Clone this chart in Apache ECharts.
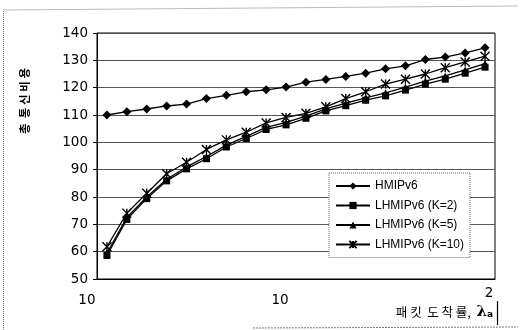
<!DOCTYPE html>
<html>
<head>
<meta charset="utf-8">
<script src="https://cdn.jsdelivr.net/npm/echarts@6/dist/echarts.min.js"></script>
<style>html,body{margin:0;padding:0;background:#fff}#c{width:520px;height:330px}</style>
</head>
<body>
<div id="c"></div>
<script>
// packet arrival rate (log-spaced, 10 points per decade)
const categories = ['1.26','1.58','2.00','2.51','3.16','3.98','5.01','6.31','7.94','10.0','12.6','15.8','20.0','25.1','31.6','39.8','50.1','63.1','79.4','100'];
const xTickIndex = [0, 9, 19];
const xTickLabels = ['10', '10', '2'];
const yTicks = { min: 50, max: 140, interval: 10 };
const seriesNames = ['HMIPv6', 'LHMIPv6 (K=2)', 'LHMIPv6 (K=5)', 'LHMIPv6 (K=10)'];
const hmipv6 = [110, 111.2, 112.2, 113.3, 114, 116, 117.2, 118.5, 119.2, 120.2, 122, 123, 124.1, 125.3, 126.9, 128, 130.3, 131.2, 132.7, 134.6];
const lhmipK2 = [58.6, 71.8, 79.4, 85.9, 90.3, 94, 98.3, 101.4, 104.7, 106.4, 108.8, 111.5, 113.4, 115.4, 117, 119.1, 121.3, 123.1, 125.3, 127.5];
const lhmipK5 = [59.5, 72.5, 80, 86.5, 91, 94.8, 99, 102.2, 105.5, 107.3, 109.6, 112.2, 114.3, 116.3, 118.1, 120.2, 122.4, 124.3, 126.5, 128.8];
const lhmipK10 = [61.8, 74.1, 81.4, 88.5, 92.7, 97.4, 100.9, 103.7, 107.1, 109.1, 110.6, 113, 116, 118.5, 121.3, 123.1, 125, 127.3, 129.4, 131.5];
const yTitle = '총  통 신 비 용';
const xTitle = ['패 킷  도 착 률,  ', 'λ', 'a'];

const numFont = { fontFamily: 'DejaVu Sans', fontSize: 13.5, color: '#000' };
const star = 'path://M0,0L10,10M0,10L10,0M5,0L5,10';
function mk(name, data, symbol, size, z) {
  return {
    name, type: 'line', data, symbol, symbolSize: size, z,
    showAllSymbol: true,
    lineStyle: { color: '#000', width: 1.3 },
    itemStyle: { color: '#000', borderColor: '#000', borderWidth: symbol === star ? 1.4 : 0 },
    emphasis: { disabled: true }
  };
}
const rich = {};
xTickLabels.forEach((t, j) => {
  rich['s' + j] = Object.assign({}, numFont, {
    padding: j === 0 ? [7, 40, 0, 0] : j === 1 ? [7, 12, 0, 0] : [0, 0, 0, 8]
  });
});
const chart = echarts.init(document.getElementById('c'));
chart.setOption({
  animation: false,
  backgroundColor: '#fff',
  grid: { left: 97, right: 25, top: 33, bottom: 51, show: true, borderColor: '#000', borderWidth: 1 },
  xAxis: {
    type: 'category', data: categories, boundaryGap: true,
    axisLine: { lineStyle: { color: '#000', width: 1 } },
    axisTick: { inside: true, length: 3, lineStyle: { color: '#000' } },
    axisLabel: {
      interval: 0, margin: 7, hideOverlap: false, rich,
      formatter: (v, i) => { const j = xTickIndex.indexOf(i); return j < 0 ? '' : '{s' + j + '|' + xTickLabels[j] + '}'; }
    },
    splitLine: { show: false }
  },
  yAxis: {
    type: 'value', min: yTicks.min, max: yTicks.max, interval: yTicks.interval,
    axisLine: { show: true, lineStyle: { color: '#000', width: 1 } },
    axisTick: { show: true, length: 4, lineStyle: { color: '#000' } },
    axisLabel: Object.assign({ margin: 9 }, numFont),
    splitLine: { lineStyle: { color: '#555', width: 1 } }
  },
  legend: {
    orient: 'vertical', left: 329, top: 173,
    padding: [6, 6, 6, 6], itemGap: 5.5, itemWidth: 34, itemHeight: 9,
    backgroundColor: '#fff', borderColor: '#666', borderWidth: 1, borderType: 'dotted',
    textStyle: { fontFamily: 'Liberation Sans', fontSize: 12, color: '#000', lineHeight: 14 },
    data: seriesNames
  },
  series: [
    mk(seriesNames[0], hmipv6, 'diamond', 9, 5),
    mk(seriesNames[1], lhmipK2, 'rect', 7, 4),
    mk(seriesNames[2], lhmipK5, 'triangle', 7, 3),
    mk(seriesNames[3], lhmipK10, star, 9, 2)
  ],
  graphic: [
    { type: 'text', x: 25, y: 101, rotation: Math.PI / 2,
      style: { text: yTitle, fontFamily: 'Noto Sans CJK KR', fontSize: 11.5, fontWeight: 'bold', fill: '#000', align: 'center', verticalAlign: 'middle' } },
    { type: 'text', x: 493, y: 312,
      style: { text: '{t|' + xTitle[0] + '}{l|' + xTitle[1] + '}{s|' + xTitle[2] + '}', align: 'right', verticalAlign: 'middle',
        rich: {
          t: { fontFamily: 'Noto Sans CJK KR', fontSize: 12.5, fill: '#000' },
          l: { fontFamily: 'DejaVu Serif', fontSize: 15, fontWeight: 'bold', fill: '#000' },
          s: { fontFamily: 'DejaVu Sans', fontSize: 9, fontWeight: 'bold', fill: '#000', padding: [6, 0, 0, 0] }
        } } },
    { type: 'line', shape: { x1: 497.5, y1: 301, x2: 497.5, y2: 325 }, style: { stroke: '#000', lineWidth: 1.2 } },
    { type: 'polyline', shape: { points: [[3.5, 330], [3.5, 10], [518, 6]] }, style: { stroke: '#777', lineWidth: 1, lineDash: [1, 1], fill: null } },
    { type: 'line', shape: { x1: 253, y1: 328, x2: 518, y2: 327 }, style: { stroke: '#777', lineWidth: 1, lineDash: [2, 1] } }
  ]
});
</script>
</body>
</html>
